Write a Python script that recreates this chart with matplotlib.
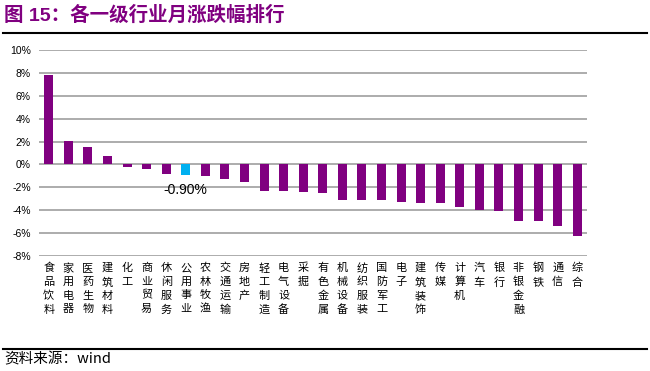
import numpy as np
import matplotlib.pyplot as plt
from matplotlib.lines import Line2D

plt.rcParams['font.family'] = ['Liberation Sans', 'Noto Sans CJK SC', 'DejaVu Sans']

# 行业名称と月涨跌幅(%)
industries = ["食品饮料", "家用电器", "医药生物", "建筑材料", "化工", "商业贸易", "休闲服务",
              "公用事业", "农林牧渔", "交通运输", "房地产", "轻工制造", "电气设备", "采掘",
              "有色金属", "机械设备", "纺织服装", "国防军工", "电子", "建筑装饰", "传媒",
              "计算机", "汽车", "银行", "非银金融", "钢铁", "通信", "综合"]
changes = [7.78, 2.07, 1.55, 0.76, -0.20, -0.41, -0.85,
           -0.90, -1.05, -1.25, -1.49, -2.30, -2.30, -2.39,
           -2.45, -3.09, -3.09, -3.09, -3.29, -3.35, -3.35,
           -3.73, -3.97, -4.08, -4.96, -4.96, -5.42, -6.24]
highlight = "公用事业"
yticks = [-8, -6, -4, -2, 0, 2, 4, 6, 8, 10]

PURPLE = "#800080"
BLUE = "#00B0F0"

fig = plt.figure(figsize=(6.5, 3.71), dpi=100)
ax = fig.add_axes([0.06, 0.31, 0.843, 0.555])

x = np.arange(len(industries))
colors = [BLUE if n == highlight else PURPLE for n in industries]
ax.bar(x, changes, width=0.46, color=colors, zorder=3)

# ハイライトのラベル
hi = industries.index(highlight)
ax.text(hi, -2.2, "%.2f%%" % changes[hi], ha="center", va="center", fontsize=10, zorder=4)

ax.set_ylim(-8, 10)
ax.set_xlim(-0.5, len(industries) - 0.5)
ax.set_yticks(yticks)
ax.set_yticklabels(["%d%%" % v for v in yticks], fontsize=7.5)
ax.yaxis.grid(True, color="#A6A6A6", linewidth=1.3, zorder=0)
ax.set_xticks(x)
ax.set_xticklabels(["\n".join(n) for n in industries], fontsize=8,
                   family=['Noto Sans CJK SC'], va="top", linespacing=1.45)
ax.tick_params(axis="both", length=0)
ax.tick_params(axis="x", pad=5)
ax.tick_params(axis="y", pad=6)
for s in ax.spines.values():
    s.set_visible(False)

# タイトルと線
fig.text(0.006, 0.958, "图 15：各一级行业月涨跌幅排行", color=PURPLE, fontsize=14,
         fontweight="bold", va="center", family=['Liberation Sans', 'Noto Sans CJK SC'])
fig.add_artist(Line2D([0.005, 0.995], [1 - 32.5 / 371] * 2, color="black", linewidth=1.5))
fig.add_artist(Line2D([0.005, 0.995], [1 - 349 / 371] * 2, color="black", linewidth=1.5))
fig.text(0.006, 1 - 359 / 371, "资料来源：wind", fontsize=10.5, va="center",
         family=['Noto Sans CJK SC', 'Liberation Sans'])

fig.savefig("out.png", dpi=100)
